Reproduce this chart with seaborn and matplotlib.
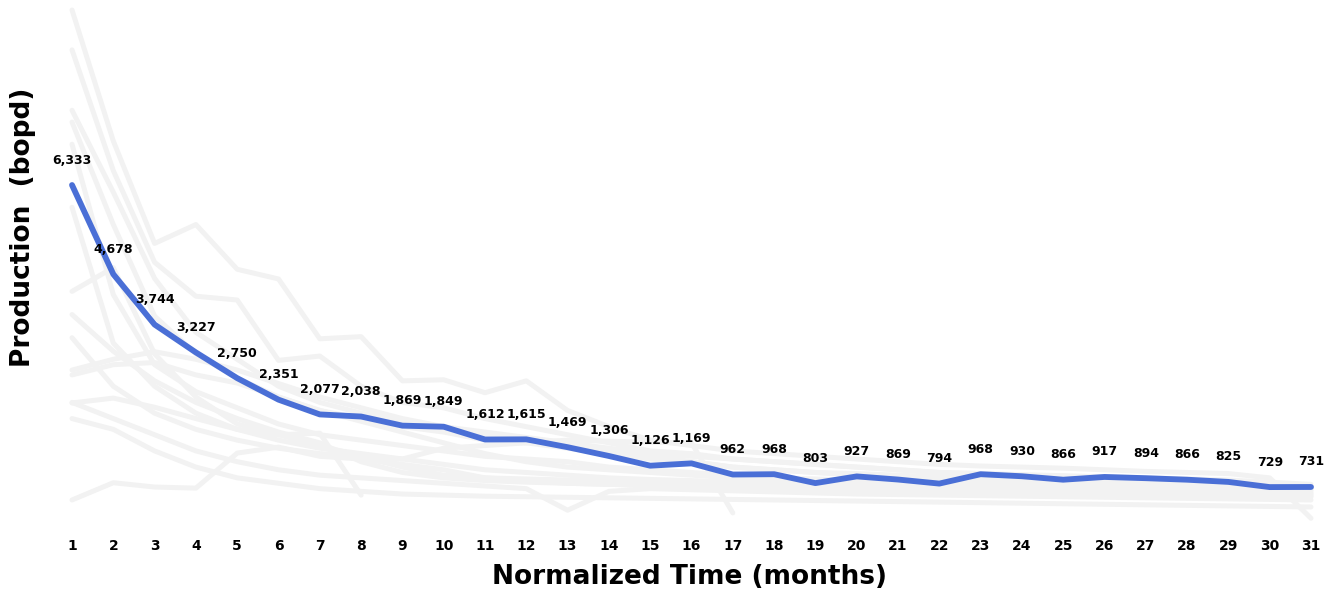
import numpy as np
import pandas as pd
import matplotlib
matplotlib.use("Agg")
import matplotlib.pyplot as plt
import seaborn as sns

months = list(range(1, 32))
avg_production = [6333, 4678, 3744, 3227, 2750, 2351, 2077, 2038, 1869, 1849,
                  1612, 1615, 1469, 1306, 1126, 1169, 962, 968, 803, 927,
                  869, 794, 968, 930, 866, 917, 894, 866, 825, 729, 731]

well_01 = [9580, 7150, 5250, 5600, 4770, 4590, 3480, 3520, 2700, 2720, 2480, 2700, 2150, 1850, 1600, 1500,
           1400, 1350, 1300, 1250, 1200, 1150, 1120, 1100, 1080, 1050, 1020, 1000, 980, 900, 150]
well_02 = [8840, 6600, 4900, 4270, 4200, 3080, 3160, 2600, 2300, 2200, 2000, 1850, 1700, 1550, 1400, 1350,
           1250, 1200, 1150, 1100, 1050, 1000, 980, 950, 930, 900, 880, 860, 840, 800, 700]
well_03 = [7720, 6200, 4600, 3600, 3100, 2600, 2300, 2100, 1950, 1850, 1750, 1650, 1550, 1450, 1350, 1300,
           1250, 1200, 1150, 1100, 1050, 1000, 980, 960, 940, 920, 900, 880, 860, 820, 780]
well_04 = [7500, 5600, 3900, 3200, 2750, 2400, 2150, 2000, 1850, 1750, 1600, 1550, 1450, 1350, 1250, 1200,
           1100, 1050, 1000, 980, 950, 920, 900, 880, 860, 840, 820, 800, 780, 760, 740]
well_05 = [7090, 4300, 3000, 2500, 2200, 1900, 1700, 1600, 1500, 1400, 1300, 1250, 1200, 1100, 1050, 1000,
           950, 900, 880, 850, 820, 800, 780, 760, 740, 720, 700, 690, 680, 670, 660]
well_06 = [5920, 3400, 2600, 2100, 1800, 1600, 1450, 1350, 1250, 1150, 1050, 1000, 950, 900, 870, 850,
           820, 800, 780, 760, 740, 720, 700, 690, 680, 670, 660, 650, 640, 630, 620]
well_07 = [4360, 4800, 3200, 2400, 1900, 1700, 1500, 1300, 1100, 950, 900, 880, 860, 840, 820, 800,
           780, 760, 740, 720, 700, 690, 680, 670, 660, 650, 640, 630, 620, 610, 600]
well_08 = [3930, 3250, 2700, 2300, 2000, 1750, 1550, 1200, 1000, 900, 850, 820, 800, 780, 760, 740,
           720, 700, 690, 680, 670, 660, 650, 640, 630, 620, 610, 600, 590, 580, 570]
well_09 = [2810, 3000, 3040, 2810, 2660, 2400, 2150, 1950, 1750, 1550, 1350, 1200, 1100, 1050, 1000, 950,
           900, 870, 850, 830, 810, 790, 770, 760, 750, 740, 730, 720, 710, 700, 690]
well_10 = [2900, 3100, 3240, 3100, 2900, 2650, 2400, 2200, 2000, 1850, 1700, 1600, 1500, 1400, 1300, 1200,
           1100, 1050, 1000, 950, 900, 880, 860, 840, 820, 800, 780, 760, 740, 720, 700]
well_11 = [2290, 2380, 2210, 2000, 1800, 1700, 1730, 580]
well_12 = [490, 810, 730, 710, 1360, 1470, 1300, 1250, 1150, 1050, 900, 850, 800, 780, 760, 740,
           720, 700, 680, 660, 650, 640, 630, 620, 610, 600, 590, 580, 570, 560, 550]
well_13 = [3500, 2600, 2100, 1800, 1600, 1450, 1350, 1300, 1250, 1450, 1500, 1550, 1600, 1580, 1560, 1550, 250]
well_14 = [2300, 2000, 1700, 1400, 1200, 1050, 950, 900, 850, 800, 750, 700, 300, 650, 700, 680,
           660, 640, 620, 600, 590, 580, 570, 560, 550, 540, 530, 520, 510, 500, 490]
well_15 = [2000, 1800, 1400, 1100, 900, 800, 700, 650, 600, 580, 560, 550, 540, 530, 520, 510,
           500, 490, 480, 470, 460, 450, 440, 430, 420, 410, 400, 390, 380, 370, 360]

wells = [well_01, well_02, well_03, well_04, well_05, well_06, well_07, well_08,
         well_09, well_10, well_11, well_12, well_13, well_14, well_15]

rows = []
for i, w in enumerate(wells):
    for m, v in zip(months, w):
        rows.append({"well": f"W{i+1}", "month": m, "value": v})
wells_df = pd.DataFrame(rows)
avg_df = pd.DataFrame({"month": months, "value": avg_production})

sns.set_style("white")
plt.rcParams["font.family"] = ["DejaVu Sans"]

fig = plt.figure(figsize=(13.24, 5.95), dpi=100)
ax = fig.add_axes([60 / 1324, 1 - 528 / 595, 1260 / 1324, (528 - 5) / 595])

sns.lineplot(data=wells_df, x="month", y="value", units="well", estimator=None,
             color="#f2f2f2", lw=3.6, legend=False, ax=ax, solid_capstyle="round")
sns.lineplot(data=avg_df, x="month", y="value", color="#4a6fd6", lw=4.2,
             legend=False, ax=ax, solid_capstyle="round")

for m, v in zip(months, avg_production):
    ax.annotate(f"{v:,}", (m, v), xytext=(0, 18), textcoords="offset points",
                ha="center", va="center", fontsize=9, fontweight="bold", color="black")

ax.set_xlim(0.709, 31.218)
ax.set_ylim(-30, 9673)
ax.set_xticks(months)
ax.set_xticklabels([str(m) for m in months], fontsize=10, fontweight="bold", color="black")
ax.tick_params(axis="x", length=0, pad=8)
ax.set_yticks([])
for s in ax.spines.values():
    s.set_visible(False)
ax.set_xlabel("Normalized Time (months)", fontsize=19, fontweight="bold", color="black", labelpad=8)
ax.set_ylabel("Production  (bopd)", fontsize=19, fontweight="bold", color="black")
ax.yaxis.set_label_coords(-24 / 1260, 0.574)

fig.savefig("out.png", dpi=100)
